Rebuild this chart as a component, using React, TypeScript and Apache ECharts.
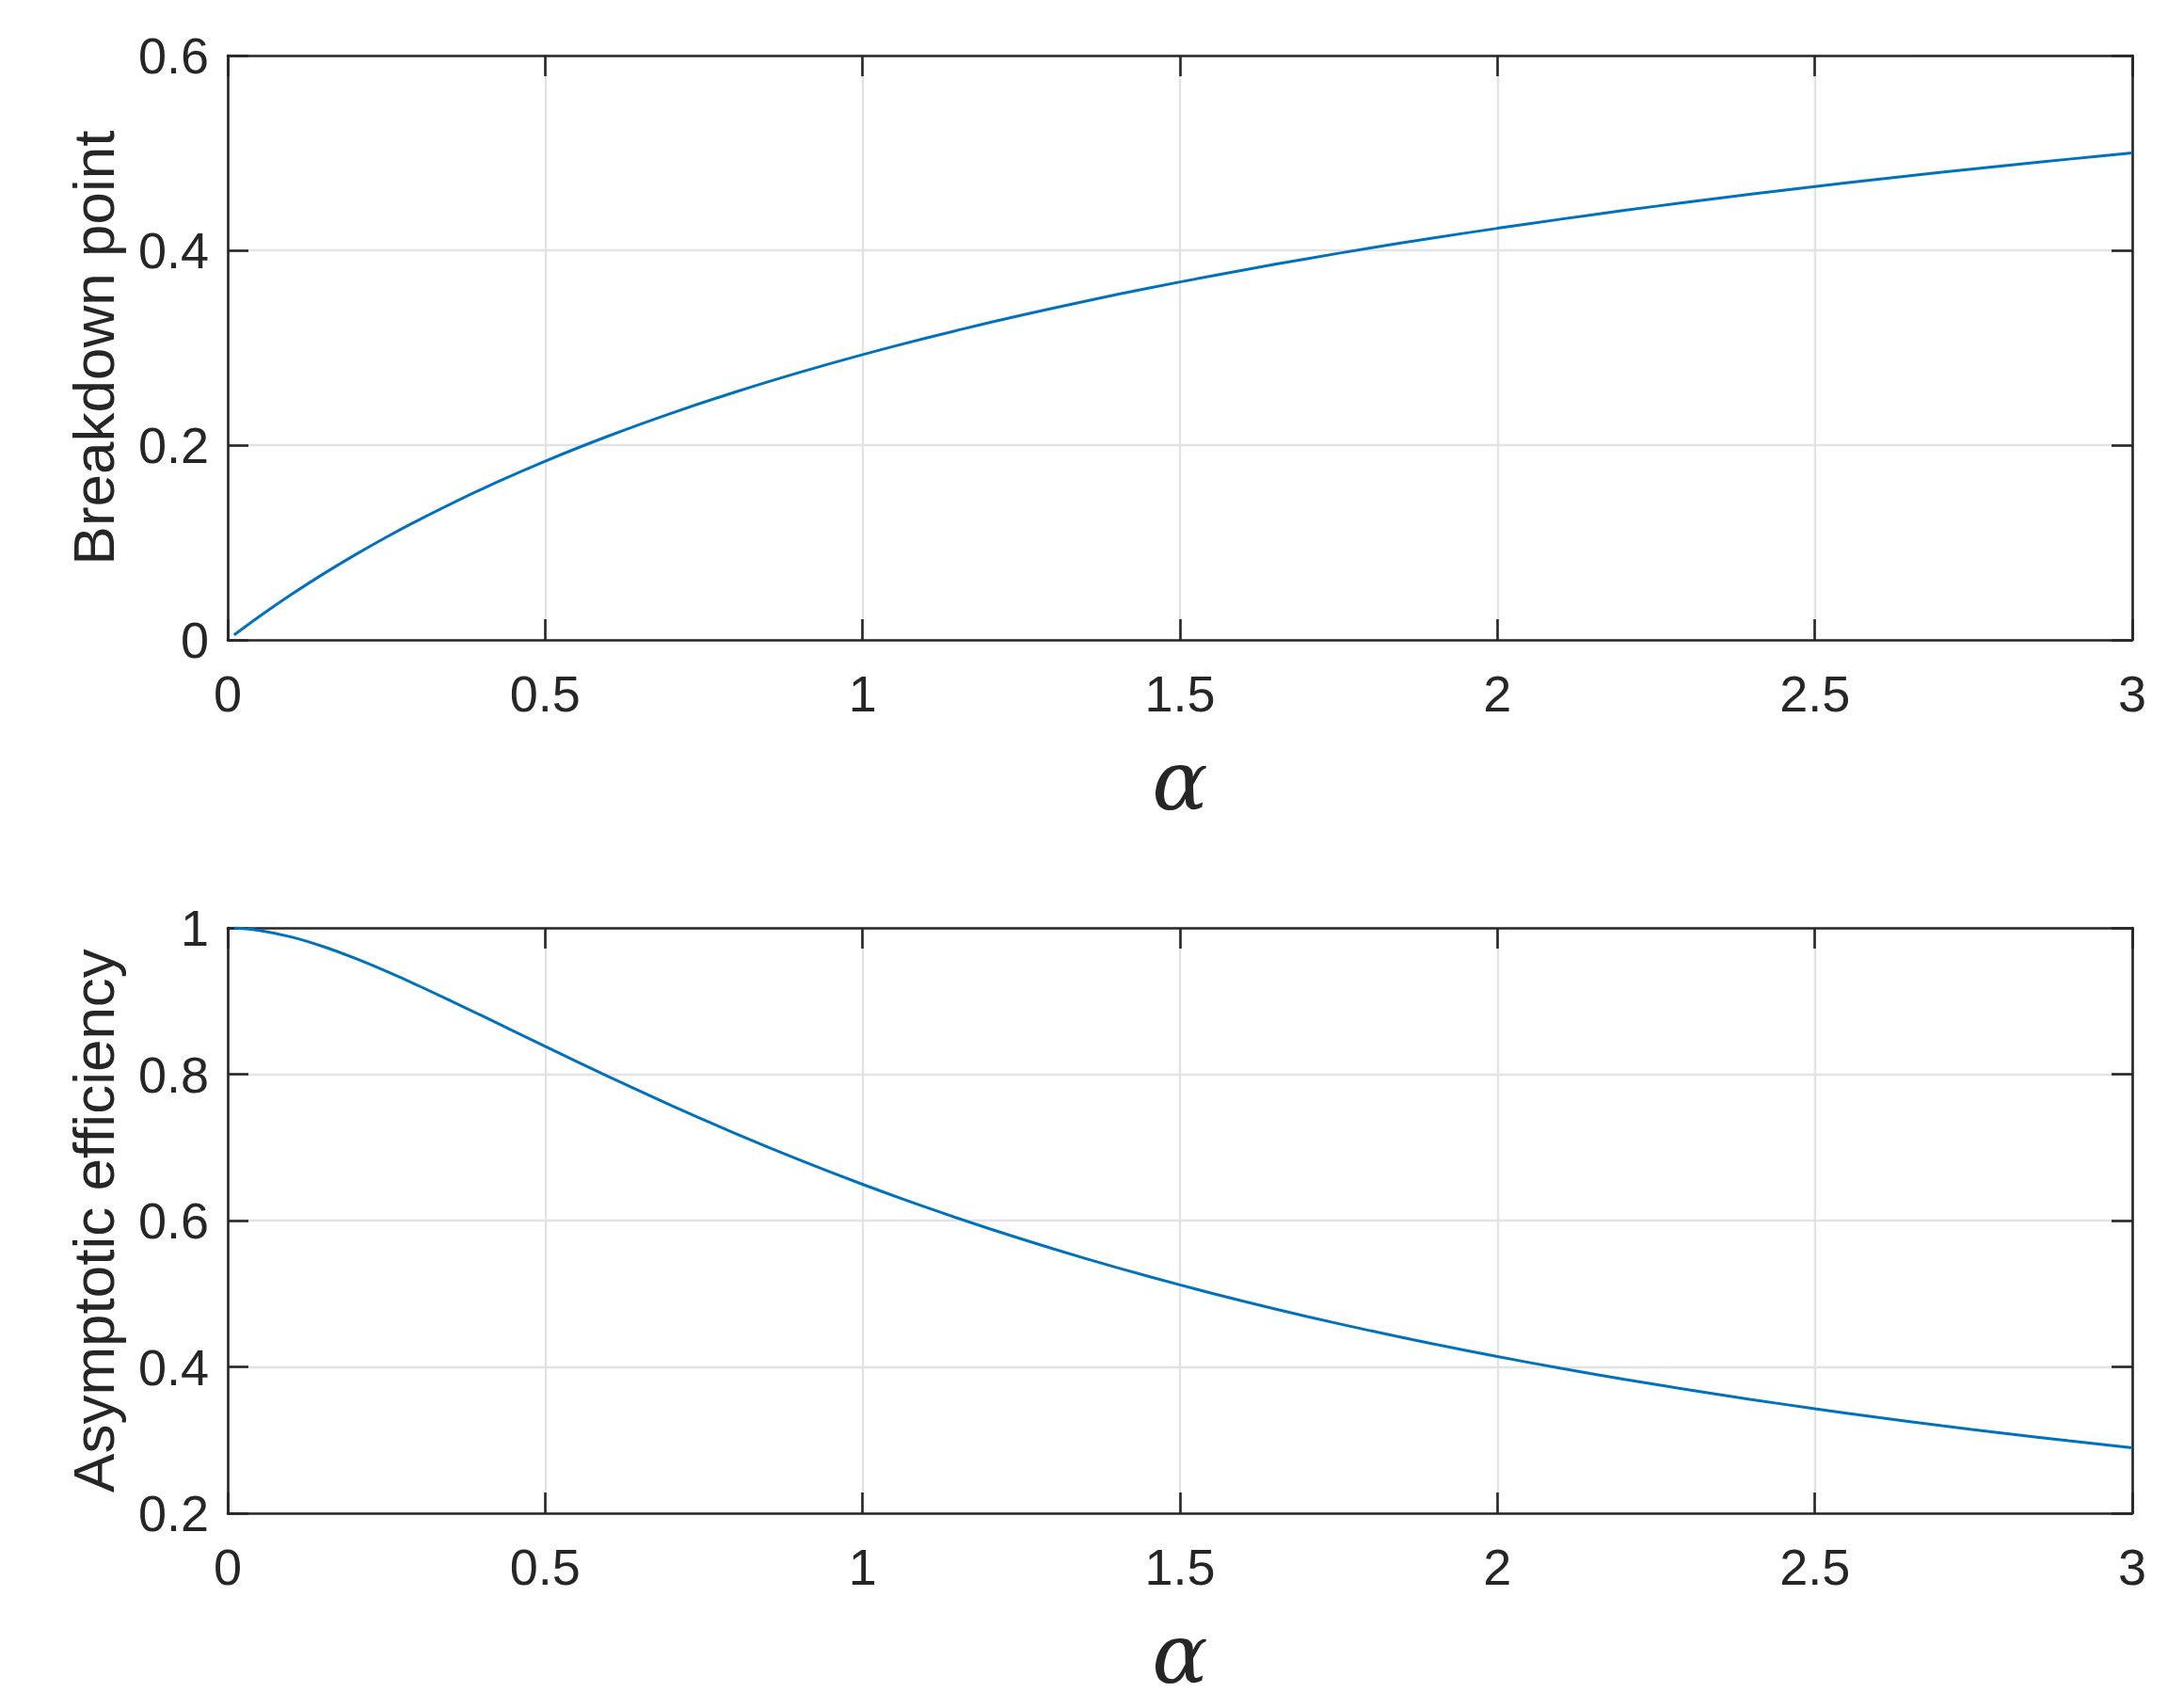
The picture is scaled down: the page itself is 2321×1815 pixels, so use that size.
import React, { useEffect, useRef } from "react";
import * as echarts from "echarts";

// alpha values (x)
const alpha = [
  0.01, 0.05, 0.1, 0.15, 0.2, 0.25, 0.3, 0.4, 0.5, 0.6, 0.7, 0.8, 0.9, 1.0,
  1.1, 1.2, 1.3, 1.4, 1.5, 1.6, 1.7, 1.8, 1.9, 2.0,
  2.1, 2.2, 2.3, 2.4, 2.5, 2.6, 2.7, 2.8, 2.9, 3.0,
];

// top panel: breakdown point
const breakdownPoint = [
  0.005, 0.0241, 0.0465, 0.0675, 0.0871, 0.1056, 0.1229, 0.1548, 0.1835, 0.2094, 0.233, 0.2546, 0.2745, 0.2929,
  0.3099, 0.3258, 0.3406, 0.3545, 0.3675, 0.3798, 0.3914, 0.4024, 0.4128, 0.4226,
  0.432, 0.441, 0.4495, 0.4577, 0.4655, 0.4729, 0.4801, 0.487, 0.4936, 0.5,
];

// bottom panel: asymptotic efficiency
const asymptoticEfficiency = [
  0.9999, 0.9966, 0.9876, 0.9746, 0.9586, 0.9406, 0.9212, 0.8801, 0.838, 0.7967, 0.7568, 0.7189, 0.6831, 0.6495,
  0.6181, 0.5888, 0.5614, 0.5359, 0.512, 0.4897, 0.4689, 0.4494, 0.4312, 0.4141,
  0.398, 0.383, 0.3688, 0.3554, 0.3428, 0.3309, 0.3196, 0.309, 0.2989, 0.2894,
];

const xRange = { min: 0, max: 3, interval: 0.5 };
const topYRange = { min: 0, max: 0.6, interval: 0.2 };
const bottomYRange = { min: 0.2, max: 1, interval: 0.2 };
const topYName = "Breakdown point";
const bottomYName = "Asymptotic efficiency";
const xName = "α";

const AXIS = "#262626";
const GRID = "#e3e3e3";
const LINE = "#0072BD";
const FONT = "'Liberation Sans', Arial, Helvetica, sans-serif";

export default function App() {
  const ref = useRef<HTMLDivElement>(null);

  useEffect(() => {
    const chart = echarts.init(ref.current!, null, { renderer: "svg" });

    const axisLine = { show: true, onZero: false, lineStyle: { color: AXIS, width: 2.6 } };
    const axisTick = { show: true, inside: true, length: 22, lineStyle: { color: AXIS, width: 2.6 } };
    const splitLine = { show: true, lineStyle: { color: GRID, width: 2.4 } };
    const label = { color: AXIS, fontFamily: FONT, fontSize: 54 };

    const xAxes: any[] = [];
    const yAxes: any[] = [];
    [0, 1].forEach((g) => {
      xAxes.push({
        type: "value",
        gridIndex: g,
        position: "bottom",
        ...xRange,
        axisLine,
        axisTick,
        splitLine,
        axisLabel: { ...label, margin: 30 },
        name: xName,
        nameLocation: "middle",
        nameGap: 105,
        nameTextStyle: { fontFamily: "'DejaVu Serif', 'Liberation Serif', serif", fontStyle: "italic", fontSize: 88, color: AXIS },
      });
      xAxes.push({
        type: "value",
        gridIndex: g,
        position: "top",
        ...xRange,
        axisLine,
        axisTick,
        splitLine: { show: false },
        axisLabel: { show: false },
      });
      const yr = g === 0 ? topYRange : bottomYRange;
      yAxes.push({
        type: "value",
        gridIndex: g,
        position: "left",
        ...yr,
        axisLine,
        axisTick,
        splitLine,
        axisLabel: { ...label, margin: 20 },
        name: g === 0 ? topYName : bottomYName,
        nameLocation: "middle",
        nameGap: 112,
        nameTextStyle: { fontFamily: FONT, fontSize: 62, color: AXIS },
      });
      yAxes.push({
        type: "value",
        gridIndex: g,
        position: "right",
        ...yr,
        axisLine,
        axisTick,
        splitLine: { show: false },
        axisLabel: { show: false },
      });
    });

    chart.setOption({
      animation: false,
      backgroundColor: "#ffffff",
      grid: [
        { left: 242, top: 59, width: 2024, height: 621, containLabel: false, outerBoundsMode: "none" },
        { left: 242, top: 986, width: 2024, height: 622, containLabel: false, outerBoundsMode: "none" },
      ],
      xAxis: xAxes,
      yAxis: yAxes,
      series: [
        {
          type: "line",
          xAxisIndex: 0,
          yAxisIndex: 0,
          data: alpha.map((a, i) => [a, breakdownPoint[i]]),
          showSymbol: false,
          smooth: 0.3,
          lineStyle: { color: LINE, width: 3 },
          itemStyle: { color: LINE },
        },
        {
          type: "line",
          xAxisIndex: 2,
          yAxisIndex: 2,
          data: alpha.map((a, i) => [a, asymptoticEfficiency[i]]),
          showSymbol: false,
          smooth: 0.3,
          lineStyle: { color: LINE, width: 3 },
          itemStyle: { color: LINE },
        },
      ],
    });

    return () => chart.dispose();
  }, []);

  return (
    <div
      ref={ref}
      style={{ position: "fixed", left: 0, top: 0, width: 2321, height: 1815, background: "#ffffff" }}
    />
  );
}
